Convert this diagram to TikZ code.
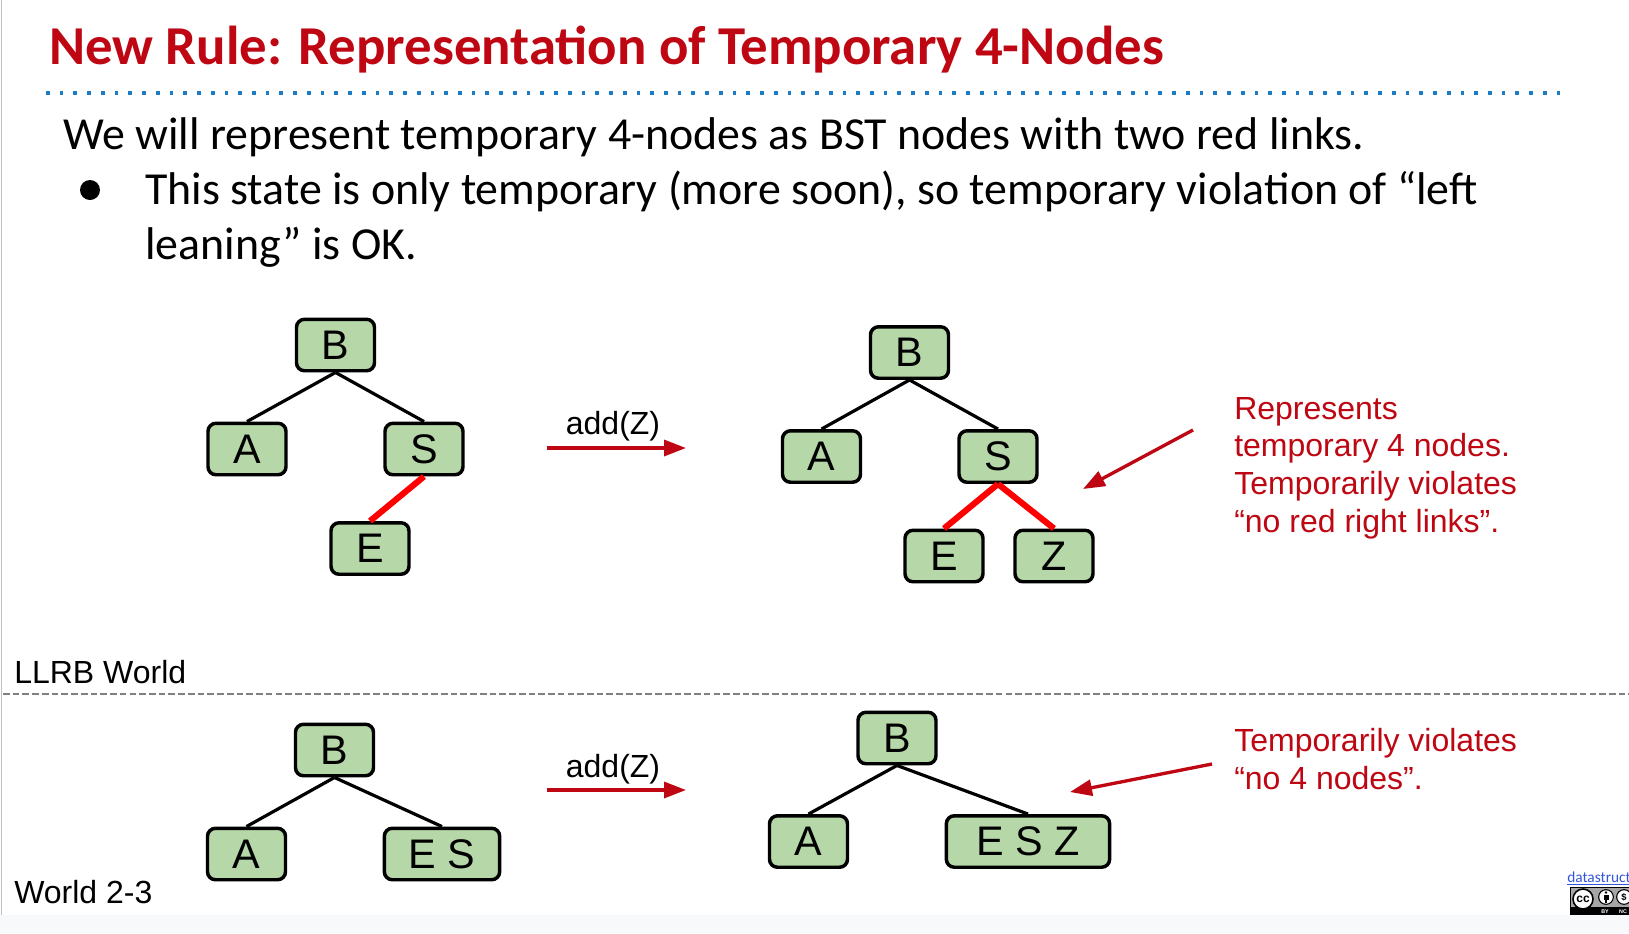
\documentclass[tikz,border=0pt]{standalone}
\usepackage{fontspec}
\setmainfont{Liberation Sans}
\newfontfamily\carlito{Carlito}
\usetikzlibrary{arrows.meta}
\definecolor{titlered}{HTML}{BE0712}
\definecolor{nodegreen}{HTML}{B6D7A8}
\definecolor{dotblue}{HTML}{1C7CC4}
\definecolor{stripbg}{HTML}{F8F9FA}
\definecolor{linkblue}{HTML}{3355DD}
\tikzset{
 x=0.75pt,y=-0.75pt,
 keybox/.style={draw=black,fill=nodegreen,line width=2.6pt,rounded corners=6pt,minimum width=58.5pt,minimum height=38.6pt,inner sep=0pt,font=\fontsize{31}{31}\selectfont,text=black},
 blackedge/.style={draw=black,line width=2.4pt},
 rededge/.style={draw=red,line width=4.6pt},
 redarrow/.style={draw=titlered,line width=2.5pt,-{Triangle[length=16.5pt,width=12pt,fill=titlered]}},
 bodytext/.style={anchor=base west,inner sep=0pt,font=\carlito\fontsize{34.4}{34.4}\selectfont,text=black},
 notetext/.style={anchor=base west,inner sep=0pt,font=\fontsize{24}{24}\selectfont,text=titlered},
 worldtext/.style={anchor=base west,inner sep=0pt,font=\fontsize{24}{24}\selectfont,text=black},
 addtext/.style={inner sep=0pt,font=\fontsize{24}{24}\selectfont,text=black},
}
\begin{document}
\begin{tikzpicture}
\useasboundingbox (0,0) rectangle (1629,933);
\fill[white] (0,0) rectangle (1629,933);
\fill[stripbg] (0,915) rectangle (1629,933);
\draw[color=black!25,line width=1pt] (1.5,0) -- (1.5,915);
\node[anchor=base west,inner sep=0pt,font=\carlito\bfseries\fontsize{41.1}{41.1}\selectfont,text=titlered] (title) at (49,64) {New Rule: Representation of Temporary 4-Nodes};
\coordinate (dotA) at (46,92.7);
\coordinate (dotB) at (1565,92.7);
\draw[dotblue,line width=2.8pt,dash pattern=on 2.8pt off 7.5pt] (dotA) -- (dotB);
\node[bodytext] (l1) at (63,149) {We will represent temporary 4-nodes as BST nodes with two red links.};
\node[bodytext] (l2) at (145,204) {This state is only temporary (more soon), so temporary violation of “left};
\node[bodytext] (l3) at (145,259) {leaning” is OK.};
\fill[black] (90,190) circle (7.5pt);
% top left tree
\node[keybox] (b1) at (335.5,345) {B};
\node[keybox] (a1) at (247,449) {A};
\node[keybox] (s1) at (424,449) {S};
\node[keybox] (e1) at (370,548.5) {E};
\draw[blackedge] (b1.south) -- (a1.north);
\draw[blackedge] (b1.south) -- (s1.north);
\draw[rededge] (s1.south) -- (e1.north);
% top right tree
\node[keybox] (b2) at (909.5,352.5) {B};
\node[keybox] (a2) at (821.5,456.5) {A};
\node[keybox] (s2) at (998,456.5) {S};
\node[keybox] (e2) at (944,556) {E};
\node[keybox] (z2) at (1054,556) {Z};
\draw[blackedge] (b2.south) -- (a2.north);
\draw[blackedge] (b2.south) -- (s2.north);
\draw[rededge] (s2.south) -- (e2.north);
\draw[rededge] (s2.south) -- (z2.north);
% top arrow
\coordinate (ar1s) at (547,448);
\coordinate (ar1e) at (686,448);
\draw[redarrow] (ar1s) -- (ar1e);
\node[addtext] (add1) at (613,426) {add(Z)};
% note
\coordinate (n1s) at (1193,430);
\coordinate (n1e) at (1083,489);
\draw[redarrow] (n1s) -- (n1e);
\node[notetext] (n1) at (1234,419) {Represents};
\node[notetext] (n2) at (1234,456) {temporary 4 nodes.};
\node[notetext] (n3) at (1234,494) {Temporarily violates};
\node[notetext] (n4) at (1234,532) {“no red right links”.};
% divider
\node[worldtext] (llrb) at (14,683) {LLRB World};
\coordinate (dvA) at (3,694);
\coordinate (dvB) at (1629,694);
\draw[black!50,line width=1.2pt,dash pattern=on 5pt off 2.3pt] (dvA) -- (dvB);
% bottom left tree
\node[keybox] (b3) at (334.5,750) {B};
\node[keybox] (a3) at (246.5,854) {A};
\node[keybox,minimum width=86.5pt] (es3) at (442,854) {E S};
\draw[blackedge] (b3.south) -- (a3.north);
\draw[blackedge] (b3.south) -- (es3.north);
% bottom right tree
\node[keybox] (b4) at (897,738) {B};
\node[keybox] (a4) at (808.5,841.5) {A};
\node[keybox,minimum width=122.5pt] (esz4) at (1028,841.5) {E S Z};
\draw[blackedge] (b4.south) -- (a4.north);
\draw[blackedge] (b4.south) -- (esz4.north);
\coordinate (ar2s) at (547,790);
\coordinate (ar2e) at (686,790);
\draw[redarrow] (ar2s) -- (ar2e);
\node[addtext] (add2) at (613,769) {add(Z)};
\coordinate (n2s) at (1212,764);
\coordinate (n2e) at (1070,792);
\draw[redarrow] (n2s) -- (n2e);
\node[notetext] (n5) at (1234,751) {Temporarily violates};
\node[notetext] (n6) at (1234,789) {“no 4 nodes”.};
\node[worldtext] (w23) at (14,903) {World 2-3};
% footer link and licence badge
\begin{scope}
\clip (1500,860) rectangle (1629,925);
\node[anchor=base west,inner sep=0pt,font=\carlito\fontsize{11.5}{11.5}\selectfont,text=linkblue] (link) at (1567,882) {\underline{datastructur.es}};
\fill[black] (1570,887) rectangle (1640,915);
\fill[black!35] (1571,888) rectangle (1640,907);
\draw[black,fill=white,line width=1.2pt] (1583,899) circle (7.5pt);
\node[inner sep=0pt,font=\bfseries\fontsize{9}{9}\selectfont] (cc) at (1583,899) {cc};
\draw[black,fill=white,line width=0.8pt] (1606,897) circle (5.5pt);
\fill[black] (1606,892.5) circle (1.1pt);
\fill[black] (1603.5,895) rectangle (1608.5,899.5);
\fill[black] (1604.8,899) rectangle (1607.2,903);
\draw[black,fill=white,line width=0.8pt] (1624,897) circle (5.5pt);
\node[inner sep=0pt,font=\bfseries\fontsize{7}{7}\selectfont] (dollar) at (1624,897) {\$};
\node[inner sep=0pt,font=\bfseries\fontsize{4}{4}\selectfont,text=white] (by) at (1605,911.5) {BY};
\node[inner sep=0pt,font=\bfseries\fontsize{4}{4}\selectfont,text=white] (nc) at (1623,911.5) {NC};
\end{scope}
\end{tikzpicture}
\end{document}
